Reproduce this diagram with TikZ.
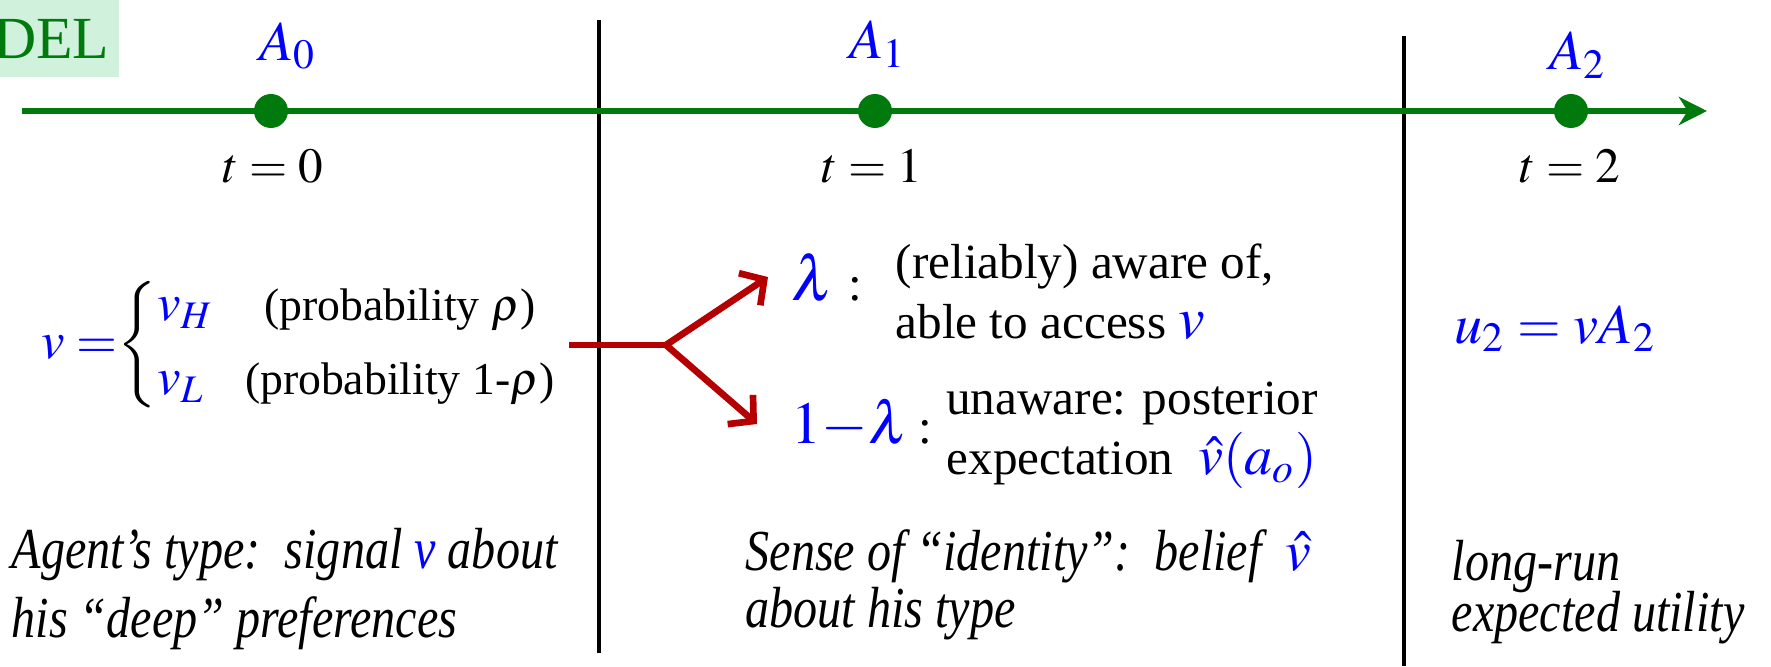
\documentclass[tikz,border=0pt]{standalone}
\usepackage{amsmath}
\usepackage{mathptmx}
\usepackage[no-math]{fontspec}
\setmainfont{Liberation Serif}
\newfontfamily\narrowserif[FakeStretch=0.83]{Liberation Serif}
\usetikzlibrary{arrows.meta,positioning}
\definecolor{tlgreen}{RGB}{0,122,12}
\definecolor{tlred}{RGB}{180,0,0}
\definecolor{tlblue}{RGB}{0,0,255}
\definecolor{modelbg}{RGB}{208,242,220}

\begin{document}
\begin{tikzpicture}[>={Stealth[length=8pt,width=8pt,inset=2.5pt]},font=\fontsize{14}{17}\selectfont,
  caption/.style={font=\narrowserif\itshape\fontsize{16.5}{16.2}\selectfont,align=left,anchor=west,inner sep=0pt},
  branch/.style={->,tlred,line width=1.9pt,>={Straight Barb[length=5pt,width=11pt]}}]
  \useasboundingbox (0,0) rectangle (17.71,6.66);
  % title tag, cut at the left edge
  \fill[modelbg] (0,5.89) rectangle (1.19,6.66);
  \node[anchor=east,inner sep=0pt,text=tlgreen,font=\fontsize{17}{20}\selectfont] (model) at (1.10,6.27) {MODEL};
  % period separators
  \coordinate (s1top) at (5.99,6.46); \coordinate (s1bot) at (5.99,0.13);
  \coordinate (s2top) at (14.04,6.30); \coordinate (s2bot) at (14.04,0);
  \draw[line width=1pt] (s1top) -- (s1bot);
  \draw[line width=1pt] (s2top) -- (s2bot);
  % time axis
  \coordinate (axstart) at (0.22,5.55); \coordinate (axend) at (17.07,5.55);
  \draw[->,tlgreen,line width=1.5pt] (axstart) -- (axend);
  \foreach \i/\x/\ax/\ay/\tx in {0/2.71/2.88/6.20/2.73,1/8.75/8.78/6.22/8.72,2/15.71/15.78/6.11/15.70} {
    \node[circle,fill=tlgreen,inner sep=0pt,minimum size=0.34cm] (T\i) at (\x,5.55) {};
    \node[text=tlblue,font=\fontsize{16}{18}\selectfont,inner sep=0pt] (A\i) at (\ax,\ay) {$A_{\i}$};
    \node[anchor=base,inner sep=0pt] (t\i) at (\tx,4.84) {$t=\i$};
  }
  % t = 0
  \node[anchor=west,inner sep=0pt,font=\fontsize{15}{18}\selectfont] (prior) at (0.41,3.21)
    {$\textcolor{tlblue}{v=}\!\left\{\begin{array}{@{}l@{\hspace{9pt}}c@{}}
      \textcolor{tlblue}{v_H} & \text{\fontsize{13}{15}\selectfont(probability $\rho$)}\\[3pt]
      \textcolor{tlblue}{v_L} & \text{\fontsize{13}{15}\selectfont(probability 1-$\rho$)}
    \end{array}\right.$};
  \coordinate (fork) at (6.66,3.21);
  \node[anchor=west,inner sep=0pt] (lam) at (7.91,3.89)
    {\textcolor{tlblue}{\fontsize{18}{18}\selectfont$\lambda$}\hspace{4pt}:};
  \node[anchor=west,inner sep=0pt] (notlam) at (7.91,2.42)
    {\textcolor{tlblue}{\fontsize{17}{17}\selectfont$1{-}\lambda$}\hspace{3pt}:};
  \node[anchor=west,align=left,inner sep=0pt] (aware) at (8.95,3.74)
    {(reliably) aware of,\\ able to access \textcolor{tlblue}{\fontsize{17}{17}\selectfont$v$}};
  \node[align=center,inner sep=0pt,font=\fontsize{14}{17}\selectfont] (unaware) at (11.32,2.31)
    {unaware: posterior\\ expectation\ \ \textcolor{tlblue}{\fontsize{16}{16}\selectfont$\hat{v}(a_o)$}};
  \draw[tlred,line width=1.9pt] ([xshift=0.1cm]prior.east) -- (fork);
  \draw[branch] (fork) -- ([xshift=-0.23cm]lam.west);
  \draw[branch] (fork) -- ([xshift=-0.34cm]notlam.west);
  % t = 2
  \node[anchor=base,text=tlblue,font=\fontsize{16}{18}\selectfont,inner sep=0pt] (util) at (15.55,3.23) {$u_2 = vA_2$};
  % what each period stands for
  \node[caption] (typecap) at (0.11,0.77) {Agent’s type:\ \ signal \textcolor{tlblue}{v} about\\[3.2pt]his “deep” preferences};
  \node[caption] (identcap) at (7.45,0.81) {Sense of “identity”:\ \ belief\ \ \textcolor{tlblue}{$\hat{v}$}\\about his type};
  \node[caption] (utilcap) at (14.51,0.74) {long-run\\[-1.5pt]expected utility};
\end{tikzpicture}
\end{document}
